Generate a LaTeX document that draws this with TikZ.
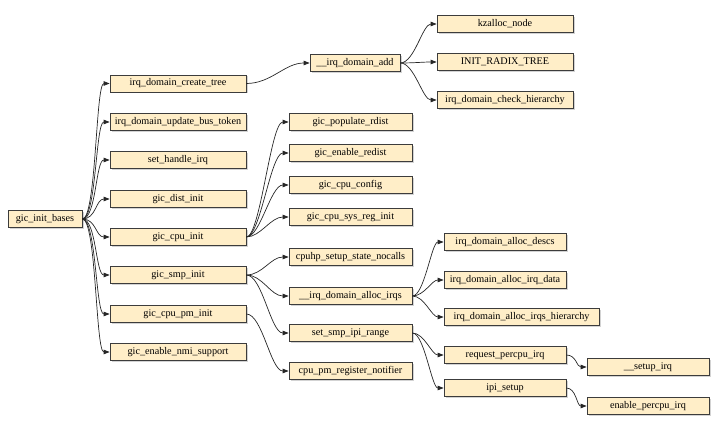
\documentclass[tikz,border=0pt]{standalone}
\usepackage{fontspec}
\setmainfont{Liberation Serif}
\usetikzlibrary{arrows.meta,shadows}
\definecolor{boxfill}{RGB}{255,238,200}
\definecolor{boxline}{RGB}{60,60,60}
\tikzset{
  fn/.style={draw=boxline, fill=boxfill, line width=0.7pt, minimum height=17pt,
    inner sep=1pt, font=\fontsize{10.2}{11}\selectfont,
    drop shadow={shadow xshift=1.5pt, shadow yshift=-1.5pt, opacity=0.35, fill=gray}},
  e/.style={-{Triangle[length=6pt,width=4.5pt]}, draw=black!85, line width=0.7pt},
}
\begin{document}
\begin{tikzpicture}[x=1pt,y=-1pt]
\useasboundingbox (0,0) rectangle (720,427);
% column 1
\node[fn, minimum width=74pt] (root) at (45,219) {gic\_init\_bases};
% column 2
\node[fn, minimum width=136pt] (tree) at (178,83.5) {irq\_domain\_create\_tree};
\node[fn, minimum width=136pt] (bus) at (178,122) {irq\_domain\_update\_bus\_token};
\node[fn, minimum width=136pt] (hand) at (178,160) {set\_handle\_irq};
\node[fn, minimum width=136pt] (dist) at (178,199) {gic\_dist\_init};
\node[fn, minimum width=136pt] (cpu) at (178,237) {gic\_cpu\_init};
\node[fn, minimum width=136pt] (smp) at (178,275) {gic\_smp\_init};
\node[fn, minimum width=136pt] (pm) at (178,314) {gic\_cpu\_pm\_init};
\node[fn, minimum width=136pt] (nmi) at (178,352) {gic\_enable\_nmi\_support};
% column 3
\node[fn, minimum width=90pt] (add) at (355,63) {\_\_irq\_domain\_add};
\node[fn, minimum width=123pt] (rdist) at (350.5,122) {gic\_populate\_rdist};
\node[fn, minimum width=123pt] (redist) at (350.5,153) {gic\_enable\_redist};
\node[fn, minimum width=123pt] (cfg) at (350.5,185) {gic\_cpu\_config};
\node[fn, minimum width=123pt] (sysreg) at (350.5,217) {gic\_cpu\_sys\_reg\_init};
\node[fn, minimum width=123pt] (cpuhp) at (350.5,257) {cpuhp\_setup\_state\_nocalls};
\node[fn, minimum width=123pt] (alloc) at (350.5,296) {\_\_irq\_domain\_alloc\_irqs};
\node[fn, minimum width=123pt] (ipi) at (350.5,333) {set\_smp\_ipi\_range};
\node[fn, minimum width=123pt] (notif) at (350.5,371) {cpu\_pm\_register\_notifier};
% column 4
\node[fn, minimum width=136pt] (kz) at (505,24) {kzalloc\_node};
\node[fn, minimum width=136pt] (radix) at (505,62) {INIT\_RADIX\_TREE};
\node[fn, minimum width=136pt] (check) at (505,100) {irq\_domain\_check\_hierarchy};
\node[fn, minimum width=122pt] (descs) at (505,242) {irq\_domain\_alloc\_descs};
\node[fn, minimum width=122pt] (idata) at (505,280) {irq\_domain\_alloc\_irq\_data};
\node[fn, minimum width=155pt] (hier) at (521.5,317) {irq\_domain\_alloc\_irqs\_hierarchy};
\node[fn, minimum width=122pt] (req) at (505,355) {request\_percpu\_irq};
\node[fn, minimum width=122pt] (ipis) at (505,388) {ipi\_setup};
% column 5
\node[fn, minimum width=122pt] (setup) at (648,367) {\_\_setup\_irq};
\node[fn, minimum width=122pt] (enable) at (648,406) {enable\_percpu\_irq};
% edges from root
\foreach \t in {tree,bus,hand,dist,cpu,smp,pm,nmi}
  \draw[e] (root.east) to[out=0,in=180,out distance=14pt,in distance=14pt] (\t.west);
\draw[e] (tree.east) to[out=0,in=180,out distance=25pt,in distance=25pt] (add.west);
\foreach \t in {kz,radix,check}
  \draw[e] (add.east) to[out=0,in=180,out distance=14pt,in distance=14pt] (\t.west);
\foreach \t in {rdist,redist,cfg,sysreg}
  \draw[e] (cpu.east) to[out=0,in=180,out distance=14pt,in distance=18pt] (\t.west);
\foreach \t in {cpuhp,alloc,ipi}
  \draw[e] (smp.east) to[out=0,in=180,out distance=16pt,in distance=18pt] (\t.west);
\draw[e] (pm.east) to[out=0,in=180,out distance=16pt,in distance=18pt] (notif.west);
\foreach \t in {descs,idata,hier}
  \draw[e] (alloc.east) to[out=0,in=180,out distance=12pt,in distance=12pt] (\t.west);
\foreach \t in {req,ipis}
  \draw[e] (ipi.east) to[out=0,in=180,out distance=12pt,in distance=12pt] (\t.west);
\draw[e] (req.east) to[out=0,in=180,out distance=10pt,in distance=10pt] (setup.west);
\draw[e] (ipis.east) to[out=0,in=180,out distance=10pt,in distance=10pt] (enable.west);
\end{tikzpicture}
\end{document}
